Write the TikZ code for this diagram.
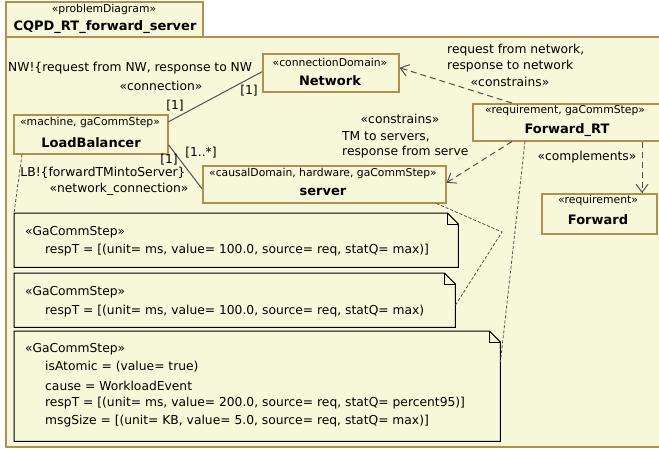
\documentclass[tikz,border=0pt]{standalone}
\usepackage{fontspec}
\setmainfont{DejaVu Sans}
\usetikzlibrary{arrows.meta,calc}
\definecolor{bg}{HTML}{F7F7DA}
\definecolor{gold}{HTML}{B09050}
\definecolor{ln}{HTML}{505050}
\tikzset{
 elem/.style={draw=gold, line width=1.5pt, fill=bg, inner sep=0pt, anchor=north west},
 stereo/.style={font=\fontsize{10.8}{12}\selectfont, inner sep=0pt},
 nm/.style={font=\fontsize{13}{15}\selectfont\bfseries, inner sep=0pt},
 lbl/.style={font=\fontsize{12.3}{14}\selectfont, inner sep=0pt},
 assoc/.style={draw=ln, line width=1pt},
 dep/.style={draw=ln, line width=1pt, dash pattern=on 6pt off 4pt, -{Straight Barb[length=8pt,width=12pt]}},
 notelink/.style={draw=ln, line width=0.8pt, dash pattern=on 3pt off 2pt},
 notebox/.style={inner sep=0pt, anchor=north west},
 noteline/.style={draw=black, line width=1pt, fill=bg, line join=miter},
}
\begin{document}
\begin{tikzpicture}[x=1pt,y=-1pt]
\useasboundingbox (0,0) rectangle (659,448);
\fill[white] (0,0) rectangle (659,448);
% frame
\draw[gold, line width=2pt, fill=bg] (5.5,37) rectangle (668,447);
\draw[gold, line width=2pt, fill=bg] (5.5,1.5) rectangle (203,37);
\node[stereo] (fst) at (104,10) {«problemDiagram»};
\node[nm] (fnm) at (105,27) {CQPD\_RT\_forward\_server};

% elements
\node[elem, minimum width=154pt, minimum height=39pt] (lb) at (13,114) {};
\node[stereo] (lbst) at (90,123) {«machine, gaCommStep»};
\node[nm] (lbnm) at (91,143) {LoadBalancer};

\node[elem, minimum width=136pt, minimum height=38pt] (nw) at (262,53) {};
\node[stereo] (nwst) at (330,62) {«connectionDomain»};
\node[nm] (nwnm) at (330,81) {Network};

\node[elem, minimum width=243pt, minimum height=37pt] (srv) at (202,165) {};
\node[stereo] (srvst) at (323,174) {«causalDomain, hardware, gaCommStep»};
\node[nm] (srvnm) at (323,192) {server};

\node[elem, minimum width=190pt, minimum height=37pt] (frt) at (472,103) {};
\node[stereo] (frtst) at (565,111) {«requirement, gaCommStep»};
\node[nm] (frtnm) at (567,130) {Forward\_RT};

\node[elem, minimum width=115pt, minimum height=40pt] (fwd) at (541,193) {};
\node[stereo] (fwdst) at (598,201) {«requirement»};
\node[nm] (fwdnm) at (598,220) {Forward};

% notes
\node[notebox, minimum width=444pt, minimum height=54pt] (n1) at (14,213) {};
\node[notebox, minimum width=441pt, minimum height=54pt] (n2) at (14,273) {};
\node[notebox, minimum width=486pt, minimum height=110pt] (n3) at (14,331) {};
\foreach \n in {n1,n2,n3}{
  \draw[noteline] (\n.north west) -- ([xshift=-11pt]\n.north east) -- ([yshift=-11pt]\n.north east) -- (\n.south east) -- (\n.south west) -- cycle;
  \draw[black, line width=0.8pt] ([xshift=-11pt]\n.north east) |- ([yshift=-11pt]\n.north east);
}
\node[lbl, anchor=west] (n1a) at (25,232) {«GaCommStep»};
\node[lbl, anchor=west] (n1b) at (45,250) {respT = [(unit= ms, value= 100.0, source= req, statQ= max)]};
\node[lbl, anchor=west] (n2a) at (25,292) {«GaCommStep»};
\node[lbl, anchor=west] (n2b) at (45,311) {respT = [(unit= ms, value= 100.0, source= req, statQ= max)};
\node[lbl, anchor=west] (n3a) at (25,349) {«GaCommStep»};
\node[lbl, anchor=west] (n3b) at (45,367) {isAtomic = (value= true)};
\node[lbl, anchor=west] (n3c) at (45,386) {cause = WorkloadEvent};
\node[lbl, anchor=west] (n3d) at (45,403) {respT = [(unit= ms, value= 200.0, source= req, statQ= percent95)]};
\node[lbl, anchor=west] (n3e) at (45,421) {msgSize = [(unit= KB, value= 5.0, source= req, statQ= max)]};

% associations
\draw[assoc] ([yshift=12.5pt]lb.east) -- ([yshift=1pt]nw.west);
\draw[assoc] ([yshift=-10.5pt]lb.east) -- ([yshift=-4.5pt]srv.west);
\node[lbl, anchor=west] (l1) at (8,68) {NW!\{request from NW, response to NW};
\node[lbl] (l2) at (161,86) {«connection»};
\node[lbl] (m1) at (175,106) {[1]};
\node[lbl] (m2) at (249,91) {[1]};
\node[lbl] (m3) at (201,153) {[1..*]};
\node[lbl] (m4) at (169,160) {[1]};
\node[lbl] (l3) at (103,173) {LB!\{forwardTMintoServer\}};
\node[lbl] (l4) at (119,189) {«network\_connection»};

% dependencies
\draw[dep] ([xshift=40pt]frt.north west) -- ([yshift=5pt]nw.east);
\node[lbl, anchor=west] (d1) at (447,50) {request from network,};
\node[lbl, anchor=west] (d2) at (447,66) {response to network};
\node[lbl] (d3) at (510,82) {«constrains»};
\draw[dep] ([xshift=40pt]frt.south west) -- ([yshift=1.5pt]srv.east);
\node[lbl] (d4) at (400,119) {«constrains»};
\node[lbl, anchor=west] (d5) at (342,137) {TM to servers,};
\node[lbl, anchor=west] (d6) at (342,152) {response from serve};
\draw[dep] ([xshift=170pt]frt.south west) -- ([xshift=101pt]fwd.north west);
\node[lbl] (d7) at (587,157) {«complements»};

% note links
\coordinate (bend) at (502,232);
\draw[notelink] ([xshift=9pt]lb.south west) -- (n1.north west);
\draw[notelink] ([xshift=-10pt]srv.south east) -- (bend) -- ([yshift=-5pt]n2.east);
\draw[notelink] ([xshift=53pt]frt.south west) -- ([yshift=24pt]n3.east);
\end{tikzpicture}
\end{document}
